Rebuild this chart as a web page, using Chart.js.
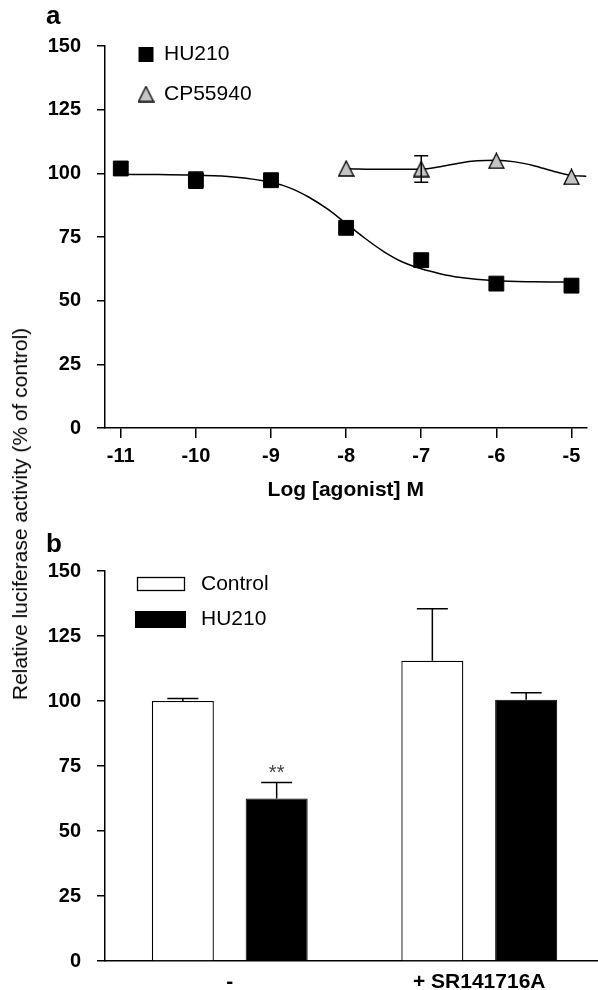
<!DOCTYPE html>
<html>
<head>
<meta charset="utf-8">
<script src="https://cdn.jsdelivr.net/npm/chart.js@4.4.1/dist/chart.umd.min.js"></script>
<style>
  body { margin: 0; background: #fff; overflow: hidden; }
  .page { position: relative; width: 598px; height: 990px; overflow: hidden; font-family: "Liberation Sans", Arial, sans-serif; }
  .panelLabel { position: absolute; left: 46px; font-size: 26px; font-weight: bold; line-height: 1; }
  #wrapA { position: absolute; left: 0; top: 0; }
  #wrapB { position: absolute; left: 0; top: 520px; }
  .yTitle { position: absolute; left: 19.5px; top: 514px; transform: translate(-50%, -50%) rotate(-90deg); white-space: nowrap; font-size: 21px; color: #000; }
</style>
</head>
<body>
<div class="page">
  <div id="wrapA"><canvas id="chartA" width="598" height="507"></canvas></div>
  <div id="wrapB"><canvas id="chartB" width="604" height="470"></canvas></div>
  <div class="panelLabel" style="top:2px">a</div>
  <div class="panelLabel" style="top:530px">b</div>
  <div class="yTitle">Relative luciferase activity (% of control)</div>
</div>
<script>
// ---- panel a : concentration-response ----
const logConc = [-11, -10, -9, -8, -7, -6, -5];
const hu210Resp = [101.9, 97.3, 97.3, 78.6, 65.9, 56.7, 55.9];
const hu210Err = [0, 3.2, 0, 0, 0, 0, 0];
const cpConc = [-8, -7, -6, -5];
const cp55940Resp = [101.9, 101.7, 104.9, 98.6];
const cp55940Err = [0, 5.2, 0, 0];
// fitted curves
const hu210FitX = [-11, -10.5, -10, -9.5, -9, -8.75, -8.5, -8.25, -8, -7.75, -7.5, -7.25, -7, -6.75, -6.5, -6, -5.5, -5];
const hu210FitY = [99.6, 99.5, 99.2, 98.6, 96.5, 94.3, 90.7, 86, 80.3, 74.5, 69.3, 65.2, 62.5, 60.6, 59.2, 57.8, 57.4, 57.3];
const cpFitX = [-8, -7.5, -7, -6.75, -6.5, -6.25, -6, -5.75, -5.5, -5.25, -5, -4.8];
const cpFitY = [101.8, 101.6, 101.6, 102.6, 104, 104.9, 105.1, 104.5, 103, 100.9, 99.2, 98.9];
const xTickVals = [-11, -10, -9, -8, -7, -6, -5];
const yTickVals = [0, 25, 50, 75, 100, 125, 150];

// ---- panel b : antagonist ----
const groups = ['-', '+ SR141716A'];
const controlVals = [100, 115.5];
const controlErr = [1.0, 20];
const hu210Vals = [62.5, 100.5];
const hu210BarErr = [6.2, 2.7];
const sigMarks = ['**', ''];

const FONT = '"Liberation Sans", Arial, sans-serif';

function toXY(xs, ys) {
    return xs.map((x, i) => ({ x: x, y: ys[i] }));
}

// grey triangle marker, centred on its bounding box
function makeTriangle() {
    const c = document.createElement('canvas');
    c.width = 17; c.height = 17;
    const g = c.getContext('2d');
    g.beginPath();
    g.moveTo(8.5, 1); g.lineTo(16, 16); g.lineTo(1, 16); g.closePath();
    g.fillStyle = '#c4c4c4'; g.fill();
    g.lineWidth = 1.3; g.strokeStyle = '#000'; g.stroke();
    return c;
}

// vertical error bars (+/- or + only) and significance marks
const errorBarPlugin = {
    id: 'errorBars',
    afterDatasetsDraw(chart, args, opts) {
        const ctx = chart.ctx;
        const yScale = chart.scales.y;
        ctx.save();
        ctx.strokeStyle = '#000';
        ctx.lineWidth = 1.5;
        opts.sets.forEach(set => {
            const ds = chart.data.datasets[set.dataset];
            const meta = chart.getDatasetMeta(set.dataset);
            meta.data.forEach((el, i) => {
                const e = set.err[i];
                const raw = ds.data[i];
                const v = typeof raw === 'object' ? raw.y : raw;
                const top = yScale.getPixelForValue(v + e);
                if (e) {
                    const bottom = set.both ? yScale.getPixelForValue(v - e) : el.y;
                    ctx.beginPath();
                    ctx.moveTo(el.x, bottom); ctx.lineTo(el.x, top);
                    ctx.moveTo(el.x - set.cap / 2, top); ctx.lineTo(el.x + set.cap / 2, top);
                    if (set.both) {
                        ctx.moveTo(el.x - set.cap / 2, bottom); ctx.lineTo(el.x + set.cap / 2, bottom);
                    }
                    ctx.stroke();
                }
                if (set.marks && set.marks[i]) {
                    ctx.fillStyle = '#444';
                    ctx.font = '20px ' + FONT;
                    ctx.textAlign = 'center';
                    ctx.textBaseline = 'alphabetic';
                    ctx.fillText(set.marks[i], el.x, top - 3);
                }
            });
        });
        ctx.restore();
    }
};

// legends sit inside the plot area
const insideLegend = {
    id: 'insideLegend',
    afterDraw(chart, args, opts) {
        const ctx = chart.ctx;
        ctx.save();
        ctx.font = '21px ' + FONT;
        ctx.textBaseline = 'middle';
        opts.items.forEach(it => {
            const label = chart.data.datasets[it.dataset].label;
            if (it.kind === 'image') {
                ctx.drawImage(it.img, it.x - it.img.width / 2, it.y - it.img.height / 2);
            } else if (it.kind === 'open') {
                ctx.fillStyle = '#fff';
                ctx.fillRect(it.x, it.y - it.h / 2, it.w, it.h);
                ctx.strokeStyle = '#000'; ctx.lineWidth = 1.3;
                ctx.strokeRect(it.x, it.y - it.h / 2, it.w, it.h);
            } else {
                ctx.fillStyle = '#000';
                ctx.fillRect(it.x, it.y - it.h / 2, it.w, it.h);
            }
            ctx.fillStyle = '#000';
            ctx.fillText(label, it.tx, it.y);
        });
        ctx.restore();
    }
};

function yAxis(extra) {
    return Object.assign({
        min: 0, max: 150,
        afterBuildTicks: s => { s.ticks = yTickVals.map(v => ({ value: v })); },
        afterFit: s => { s.width = 105; },
        grid: { drawOnChartArea: false, drawTicks: true, tickLength: 8, color: '#000', lineWidth: 1.5 },
        border: { display: true, color: '#000', width: 1.5 },
        ticks: { color: '#000', padding: 16, font: { family: FONT, size: 20, weight: 'bold' } }
    }, extra || {});
}

document.addEventListener('DOMContentLoaded', () => {
    const tri = makeTriangle();

    // PANEL A
    const ctxA = document.getElementById('chartA').getContext('2d');
    new Chart(ctxA, {
        type: 'scatter',
        data: {
            datasets: [{
                label: 'HU210',
                data: toXY(logConc, hu210Resp),
                pointStyle: 'rect',
                pointRadius: 10.5,
                backgroundColor: '#000',
                borderColor: '#000',
                borderWidth: 1
            }, {
                label: 'CP55940',
                data: toXY(cpConc, cp55940Resp),
                pointStyle: tri,
                pointRadius: 8
            }, {
                label: 'HU210 fit',
                type: 'line',
                data: toXY(hu210FitX, hu210FitY),
                borderColor: '#000',
                borderWidth: 1.5,
                pointRadius: 0,
                cubicInterpolationMode: 'monotone'
            }, {
                label: 'CP55940 fit',
                type: 'line',
                data: toXY(cpFitX, cpFitY),
                borderColor: '#000',
                borderWidth: 1.5,
                pointRadius: 0,
                cubicInterpolationMode: 'monotone'
            }]
        },
        options: {
            responsive: false,
            animation: false,
            devicePixelRatio: 1,
            layout: { padding: { top: 46, left: 0, right: 0, bottom: 0 } },
            plugins: {
                legend: { display: false },
                tooltip: { enabled: false },
                errorBars: {
                    sets: [
                        { dataset: 0, err: hu210Err, cap: 15, both: true },
                        { dataset: 1, err: cp55940Err, cap: 14, both: true }
                    ]
                },
                insideLegend: {
                    items: [
                        { dataset: 0, kind: 'solid', x: 138.5, y: 54.5, w: 15, h: 15, tx: 164 },
                        { dataset: 1, kind: 'image', img: tri, x: 146, y: 94, tx: 164 }
                    ]
                }
            },
            scales: {
                x: {
                    type: 'linear',
                    min: -11.21,
                    max: -4.8,
                    afterBuildTicks: s => { s.ticks = xTickVals.map(v => ({ value: v })); },
                    afterFit: s => { s.height = 79; },
                    grid: { drawOnChartArea: false, drawTicks: true, tickLength: 10, color: '#000', lineWidth: 1.5 },
                    border: { display: true, color: '#000', width: 1.5 },
                    ticks: { color: '#000', padding: 6, maxRotation: 0, font: { family: FONT, size: 20, weight: 'bold' }, callback: v => String(v) },
                    title: { display: true, text: 'Log [agonist] M', color: '#000', padding: { top: 4, bottom: 4 }, font: { family: FONT, size: 21, weight: 'bold' } }
                },
                y: yAxis()
            }
        },
        plugins: [errorBarPlugin, insideLegend]
    });

    // PANEL B
    const ctxB = document.getElementById('chartB').getContext('2d');
    new Chart(ctxB, {
        type: 'bar',
        data: {
            labels: groups,
            datasets: [{
                label: 'Control',
                data: controlVals,
                backgroundColor: '#fff',
                borderColor: '#000',
                borderWidth: 1.3,
                categoryPercentage: 0.752,
                barPercentage: 0.661
            }, {
                label: 'HU210',
                data: hu210Vals,
                backgroundColor: '#000',
                borderColor: '#000',
                borderWidth: 1,
                categoryPercentage: 0.752,
                barPercentage: 0.661
            }]
        },
        options: {
            responsive: false,
            animation: false,
            devicePixelRatio: 1,
            layout: { padding: { top: 51, left: 0, right: 0, bottom: 0 } },
            plugins: {
                legend: { display: false },
                tooltip: { enabled: false },
                errorBars: {
                    sets: [
                        { dataset: 0, err: controlErr, cap: 31, both: false },
                        { dataset: 1, err: hu210BarErr, cap: 31, both: false, marks: sigMarks }
                    ]
                },
                insideLegend: {
                    items: [
                        { dataset: 0, kind: 'open', x: 137.5, y: 64, w: 47, h: 13, tx: 201 },
                        { dataset: 1, kind: 'solid', x: 135, y: 99.5, w: 51, h: 17, tx: 201 }
                    ]
                }
            },
            scales: {
                x: {
                    afterFit: s => { s.height = 29; },
                    grid: { display: false },
                    border: { display: true, color: '#000', width: 1.5 },
                    ticks: { color: '#000', padding: 1, font: { family: FONT, size: 21, weight: 'bold' } }
                },
                y: yAxis()
            }
        },
        plugins: [errorBarPlugin, insideLegend]
    });
});
</script>
</body>
</html>
